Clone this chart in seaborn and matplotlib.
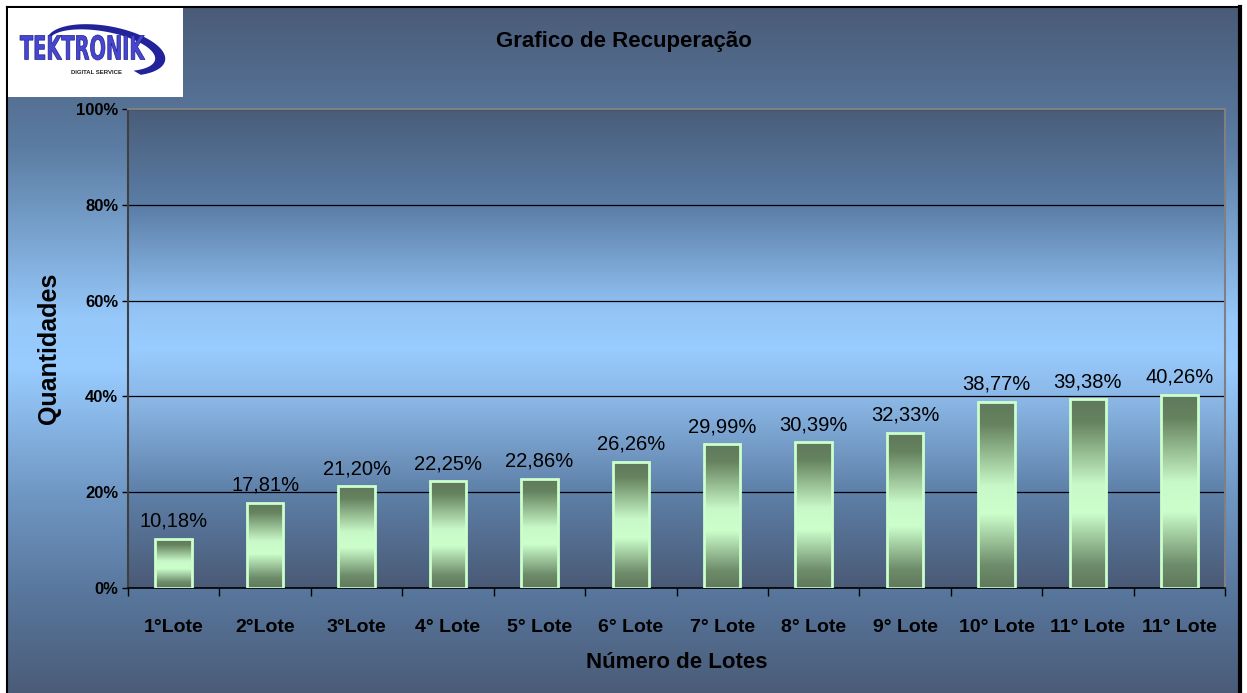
import numpy as np
import pandas as pd
import matplotlib
matplotlib.use("Agg")
import matplotlib.pyplot as plt
import seaborn as sns
from matplotlib.colors import LinearSegmentedColormap
from matplotlib.textpath import TextPath
from matplotlib.font_manager import FontProperties
from matplotlib.patches import PathPatch, Polygon
from matplotlib.transforms import Affine2D

# dados
lotes = ["1°Lote", "2°Lote", "3°Lote", "4° Lote", "5° Lote", "6° Lote",
         "7° Lote", "8° Lote", "9° Lote", "10° Lote", "11° Lote", "11° Lote"]
valores = [10.18, 17.81, 21.20, 22.25, 22.86, 26.26, 29.99, 30.39, 32.33, 38.77, 39.38, 40.26]
yticks = [0, 20, 40, 60, 80, 100]

df = pd.DataFrame({"pos": range(len(lotes)), "valor": valores})

sns.set_style("white")
plt.rcParams["font.family"] = ["Liberation Sans", "DejaVu Sans"]
plt.rcParams["text.color"] = "black"
plt.rcParams["axes.labelcolor"] = "black"
plt.rcParams["xtick.color"] = "black"
plt.rcParams["ytick.color"] = "black"

W, H = 1247, 693
fig = plt.figure(figsize=(W / 100, H / 100), dpi=100)
fig.patch.set_facecolor("white")

fundo = LinearSegmentedColormap.from_list("fundo", [
    (0, "#4a5b78"), (0.2, "#5b7ca2"), (0.45, "#96c8fa"), (0.52, "#99ccff"),
    (0.7, "#7098c4"), (0.85, "#58769c"), (1, "#4a5a76")])
area = LinearSegmentedColormap.from_list("area", [
    (0, "#4a5d7a"), (0.2, "#5a7da5"), (0.42, "#93c4f5"), (0.5, "#99ccff"),
    (0.62, "#88b4e2"), (0.8, "#5e80a8"), (1, "#4a5a76")])
barra = LinearSegmentedColormap.from_list("barra", [
    (0, "#5f795c"), (0.12, "#66835f"), (0.45, "#c8f8c8"), (0.6, "#ccffcc"),
    (0.88, "#6e8c6a"), (1, "#5f795c")])
grad = np.linspace(0, 1, 256).reshape(-1, 1)

# fundo do grafico com moldura
bg = fig.add_axes([7 / W, -0.01, 1233 / W, 686 / H + 0.01], zorder=-10)
bg.imshow(grad, cmap=fundo, aspect="auto", extent=[0, 1, 0, 1])
bg.set_xticks([])
bg.set_yticks([])
for s in bg.spines.values():
    s.set_color("black")
    s.set_linewidth(1.5)
bg.spines["right"].set_linewidth(3)

# area de plotagem
ax = fig.add_axes([128 / W, 1 - 588 / H, 1097 / W, 479 / H])
sns.barplot(data=df, x="pos", y="valor", ax=ax, width=0.4, color="#ccffcc",
            edgecolor="#ccffcc", linewidth=2)
ax.set_xlim(-0.5, len(lotes) - 0.5)
ax.set_ylim(0, 100)
x0, x1 = ax.get_xlim()
ax.imshow(grad, cmap=area, aspect="auto", extent=[x0, x1, 0, 100], zorder=0.1)

for bar in ax.patches:
    bx, by, bw, bh = bar.get_x(), bar.get_y(), bar.get_width(), bar.get_height()
    im = ax.imshow(grad, cmap=barra, aspect="auto",
                   extent=[bx, bx + bw, by, by + bh], zorder=2.5)
    im.set_clip_path(bar)
    bar.set_facecolor("none")
    bar.set_zorder(3)

ax.set_xlim(x0, x1)
ax.set_ylim(0, 100)

ax.bar_label(ax.containers[0],
             labels=[f"{v:.2f}%".replace(".", ",") for v in valores],
             padding=6, fontsize=14.5, color="black")

ax.set_axisbelow(True)
ax.yaxis.grid(True, color="black", linewidth=0.9)
ax.set_yticks(yticks, labels=[f"{t}%" for t in yticks], fontsize=12, fontweight="bold")
ax.tick_params(axis="y", length=4, width=1, color="black", direction="out", pad=3, left=True)
ax.set_xticks(range(len(lotes)), labels=lotes, fontsize=14, fontweight="bold")
ax.set_xticks(np.arange(-0.5, len(lotes)), minor=True)
ax.tick_params(axis="x", which="major", length=0, pad=22)
ax.tick_params(axis="x", which="minor", length=6, width=1, color="black",
               direction="out", bottom=True)

ax.spines["left"].set_color("#404040")
ax.spines["left"].set_linewidth(1.5)
ax.spines["bottom"].set_color("black")
ax.spines["bottom"].set_linewidth(1.2)
for s in ["top", "right"]:
    ax.spines[s].set_color("#808080")
    ax.spines[s].set_linewidth(1.5)

ax.set_xlabel("Número de Lotes", fontsize=16, fontweight="bold", labelpad=12)
ax.set_ylabel("Quantidades", fontsize=18, fontweight="bold", labelpad=11)

fig.text(624 / W, 1 - 42 / H, "Grafico de Recuperação", ha="center", va="center",
         fontsize=16, fontweight="bold", color="black")

# logotipo
lg = fig.add_axes([8 / W, 1 - 97 / H, 175 / W, 89 / H], zorder=5)
lg.set_facecolor("white")
lg.set_xlim(0, 175)
lg.set_ylim(89, 0)
lg.set_xticks([])
lg.set_yticks([])
for s in lg.spines.values():
    s.set_visible(False)

th = np.radians(10)
t = np.linspace(np.radians(172), np.radians(-50), 120)
cx, cy = 98, 42
ox, oy = 60 * np.cos(t), -24 * np.sin(t)
ix, iy = -4 + 54 * np.cos(t), 1 - 19 * np.sin(t)
def rot(x, y):
    return cx + x * np.cos(th) - y * np.sin(th), cy + x * np.sin(th) + y * np.cos(th)
oxr, oyr = rot(ox, oy)
ixr, iyr = rot(ix, iy)
pts = np.column_stack([np.concatenate([oxr, ixr[::-1]]), np.concatenate([oyr, iyr[::-1]])])
lg.add_patch(Polygon(pts, closed=True, fc="#22229a", ec="none"))

tp = TextPath((0, 0), "TEKTRONIK", size=1,
              prop=FontProperties(family="Liberation Sans Narrow", weight="bold"))
ext = tp.get_extents()
tr = Affine2D().translate(-ext.x0, -ext.y0).scale(125 / ext.width, -25 / ext.height).translate(12, 52)
lg.add_patch(PathPatch(tr.transform_path(tp), fc="#4646d2", ec="#22228a", lw=0.5))
lg.text(88, 65, "DIGITAL SERVICE", ha="center", va="center", fontsize=4.3,
        fontweight="bold", color="#222222")

fig.savefig("out.png", dpi=100)
